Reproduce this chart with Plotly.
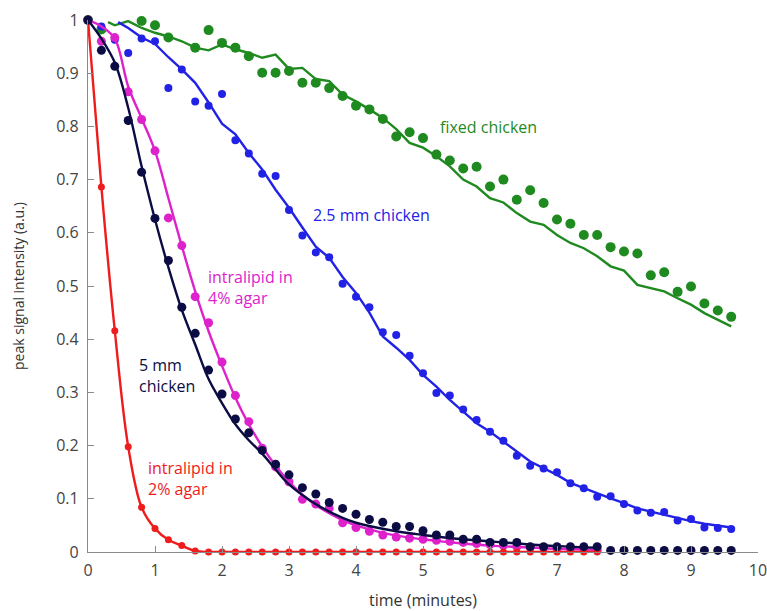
import plotly.graph_objects as go

# ---------------- data ----------------
t_dots = [round(0.2 * i, 1) for i in range(49)]  # 0 .. 9.6 step 0.2 (sampling times)
t_short = t_dots[:39]                              # 0 .. 7.6

red_vals = [1.0, 0.686, 0.416, 0.198, 0.084, 0.044, 0.023, 0.012, 0.002] + [0.0] * 30

magenta_dots = [1.0, 0.960, 0.967, 0.865, 0.813, 0.754, 0.628, 0.576, 0.480, 0.431,
                0.357, 0.294, 0.245, 0.195, 0.160, 0.132, 0.099, 0.090, 0.082, 0.055,
                0.046, 0.039, 0.032, 0.028, 0.026, 0.024, 0.022, 0.020, 0.018, 0.016,
                0.014, 0.012, 0.010, 0.009, 0.008, 0.006, 0.005, 0.004, 0.003]
magenta_fit_t = [0, 0.2, 0.4, 0.6, 0.8, 1.0, 1.2, 1.4, 1.6, 1.8, 2.0, 2.2, 2.4, 2.6, 2.8,
                 3.0, 3.2, 3.4, 3.6, 3.8, 4.0, 4.4, 4.8, 5.2, 5.6, 6.0, 6.5, 7.0, 7.6]
magenta_fit = [1.0, 0.988, 0.965, 0.875, 0.815, 0.754, 0.665, 0.575, 0.49, 0.415, 0.35,
               0.29, 0.24, 0.198, 0.162, 0.132, 0.108, 0.088, 0.073, 0.06, 0.05, 0.036,
               0.027, 0.021, 0.016, 0.012, 0.009, 0.006, 0.004]

navy_dots = [1.0, 0.943, 0.913, 0.811, 0.714, 0.627, 0.548, 0.460, 0.411, 0.342, 0.297,
             0.250, 0.224, 0.191, 0.165, 0.145, 0.121, 0.109, 0.093, 0.082, 0.071, 0.061,
             0.056, 0.048, 0.048, 0.040, 0.032, 0.032, 0.024, 0.024, 0.018, 0.018, 0.018,
             0.010, 0.010, 0.010, 0.010, 0.010, 0.010, 0.003, 0.003, 0.003, 0.003, 0.003,
             0.003, 0.003, 0.003, 0.003, 0.003]
navy_fit_t = [0, 0.2, 0.4, 0.6, 0.8, 1.0, 1.2, 1.4, 1.6, 1.8, 2.0, 2.2, 2.4, 2.6, 2.8, 3.0,
              3.4, 3.8, 4.0, 4.6, 5.0, 5.5, 6.0, 6.5, 7.0, 7.6]
navy_fit = [1.0, 0.965, 0.92, 0.835, 0.725, 0.625, 0.535, 0.455, 0.39, 0.325, 0.28, 0.24,
            0.21, 0.185, 0.155, 0.127, 0.09, 0.064, 0.055, 0.039, 0.032, 0.025, 0.02,
            0.015, 0.011, 0.008]

blue_dots = [1.0, 0.988, 0.963, 0.938, 0.965, 0.960, 0.872, 0.907, 0.847, 0.839, 0.861,
             0.774, 0.749, 0.711, 0.707, 0.643, 0.595, 0.563, 0.554, 0.504, 0.480, 0.460,
             0.413, 0.408, 0.369, 0.336, 0.299, 0.294, 0.268, 0.248, 0.226, 0.209, 0.181,
             0.162, 0.157, 0.150, 0.129, 0.120, 0.104, 0.105, 0.090, 0.078, 0.074, 0.075,
             0.059, 0.062, 0.046, 0.045, 0.043]
blue_line_t = [0.45, 0.6, 0.8, 1.0, 1.2, 1.4, 1.6, 1.8, 2.0, 2.2, 2.4, 2.6, 2.8, 3.0, 3.2,
               3.4, 3.6, 3.8, 4.0, 4.2, 4.4, 4.6, 4.8, 5.0, 5.2, 5.4, 5.6, 5.8, 6.0, 6.2,
               6.4, 6.6, 6.8, 7.0, 7.2, 7.4, 7.6, 7.8, 8.0, 8.2, 8.4, 8.6, 8.8, 9.0, 9.2,
               9.4, 9.6]
blue_line = [0.996, 0.985, 0.967, 0.955, 0.930, 0.907, 0.882, 0.845, 0.805, 0.785, 0.750,
             0.719, 0.681, 0.647, 0.610, 0.574, 0.553, 0.517, 0.487, 0.450, 0.405, 0.384,
             0.361, 0.333, 0.311, 0.286, 0.264, 0.242, 0.226, 0.208, 0.189, 0.170, 0.157,
             0.145, 0.130, 0.120, 0.110, 0.101, 0.092, 0.082, 0.076, 0.070, 0.063, 0.058,
             0.053, 0.049, 0.046]

green_dots_t = [0, 0.2, 0.8, 1.0, 1.2, 1.6, 1.8, 2.0, 2.2, 2.4, 2.6, 2.8, 3.0, 3.2, 3.4,
                3.6, 3.8, 4.0, 4.2, 4.4, 4.6, 4.8, 5.0, 5.2, 5.4, 5.6, 5.8, 6.0, 6.2, 6.4,
                6.6, 6.8, 7.0, 7.2, 7.4, 7.6, 7.8, 8.0, 8.2, 8.4, 8.6, 8.8, 9.0, 9.2, 9.4, 9.6]
green_dots = [1.0, 0.982, 0.998, 0.990, 0.967, 0.948, 0.981, 0.957, 0.948, 0.932, 0.901,
              0.901, 0.904, 0.882, 0.882, 0.872, 0.857, 0.839, 0.832, 0.814, 0.781, 0.789,
              0.778, 0.747, 0.736, 0.721, 0.724, 0.687, 0.700, 0.662, 0.680, 0.656, 0.625,
              0.617, 0.596, 0.596, 0.573, 0.565, 0.561, 0.520, 0.526, 0.489, 0.499, 0.467,
              0.454, 0.442]
green_line_t = [0.3, 0.4, 0.6, 0.8, 1.0, 1.2, 1.4, 1.6, 1.8, 2.0, 2.2, 2.4, 2.6, 2.8, 3.0,
                3.2, 3.4, 3.6, 3.8, 4.0, 4.2, 4.4, 4.6, 4.8, 5.0, 5.2, 5.4, 5.6, 5.8, 6.0,
                6.2, 6.4, 6.6, 6.8, 7.0, 7.2, 7.4, 7.6, 7.8, 8.0, 8.2, 8.4, 8.6, 8.8, 9.0,
                9.2, 9.4, 9.6]
green_line = [0.996, 0.990, 0.998, 0.985, 0.976, 0.969, 0.960, 0.948, 0.943, 0.954, 0.945,
              0.938, 0.929, 0.935, 0.908, 0.910, 0.889, 0.885, 0.860, 0.847, 0.832, 0.816,
              0.795, 0.769, 0.760, 0.744, 0.725, 0.700, 0.687, 0.665, 0.657, 0.637, 0.621,
              0.615, 0.596, 0.581, 0.571, 0.556, 0.537, 0.529, 0.502, 0.496, 0.490, 0.477,
              0.465, 0.449, 0.437, 0.424]

labels = ["fixed chicken", "2.5 mm chicken", "intralipid in<br>4% agar",
          "5 mm<br>chicken", "intralipid in<br>2% agar"]
x_ticks = list(range(0, 11))
y_ticks = [round(0.1 * i, 1) for i in range(11)]

# ---------------- styles ----------------
GREEN = "#1f8a1f"
BLUE = "#2222e6"
MAGENTA = "#dd22cc"
NAVY = "#0c0c44"
RED = "#ee1c1c"
FONT = "Open Sans"

fig = go.Figure()

def dots(x, y, color, size=9):
    fig.add_trace(go.Scatter(x=x, y=y, mode="markers", cliponaxis=False,
                             marker=dict(color=color, size=size, line=dict(width=0)),
                             showlegend=False, hoverinfo="skip"))

def line(x, y, color, shape="linear", width=2.4):
    fig.add_trace(go.Scatter(x=x, y=y, mode="lines", cliponaxis=False,
                             line=dict(color=color, width=width, shape=shape),
                             showlegend=False, hoverinfo="skip"))

# green
dots(green_dots_t, green_dots, GREEN, 10)
line(green_line_t, green_line, GREEN)
# blue
dots(t_dots, blue_dots, BLUE, 8)
line(blue_line_t, blue_line, BLUE)
# magenta
dots(t_short, magenta_dots, MAGENTA, 9)
line(magenta_fit_t, magenta_fit, MAGENTA, "spline")
# red
line(t_short, red_vals, RED, "spline")
dots(t_short, red_vals, RED, 7)
# navy
dots(t_dots, navy_dots, NAVY, 9)
line(navy_fit_t, navy_fit, NAVY, "spline")

# text labels
label_pos = [(5.25, 0.798, GREEN), (3.36, 0.634, BLUE), (1.79, 0.497, MAGENTA),
             (0.76, 0.332, NAVY), (0.90, 0.139, RED)]
for txt, (lx, ly, c) in zip(labels, label_pos):
    fig.add_annotation(x=lx, y=ly, text=txt, showarrow=False, xanchor="left",
                       yanchor="middle", align="left", xshift=-2,
                       font=dict(family=FONT, size=16, color=c))

axis_common = dict(showline=True, linecolor="#8a8a8a", linewidth=1.3,
                   ticks="inside", ticklen=6, tickcolor="#8a8a8a", tickwidth=1.2,
                   showgrid=False, zeroline=False, automargin=False,
                   ticklabeloverflow="allow",
                   tickfont=dict(family=FONT, size=16, color="#444444"))

fig.update_layout(
    width=767, height=611,
    margin=dict(l=88, r=9, t=20, b=59),
    paper_bgcolor="white", plot_bgcolor="white",
    xaxis=dict(range=[0, 10], tickvals=x_ticks, ticklabelstandoff=4, **axis_common,
               title=dict(text="time (minutes)", standoff=16,
                          font=dict(family=FONT, size=16, color="#333333"))),
    yaxis=dict(range=[0, 1], tickvals=y_ticks, ticktext=[f"{v:g}" for v in y_ticks],
               ticklabelstandoff=5, **axis_common,
               title=dict(text="peak signal intensity (a.u.)", standoff=28,
                          font=dict(family=FONT, size=14, color="#333333"))),
)

fig.write_html("out.html")
